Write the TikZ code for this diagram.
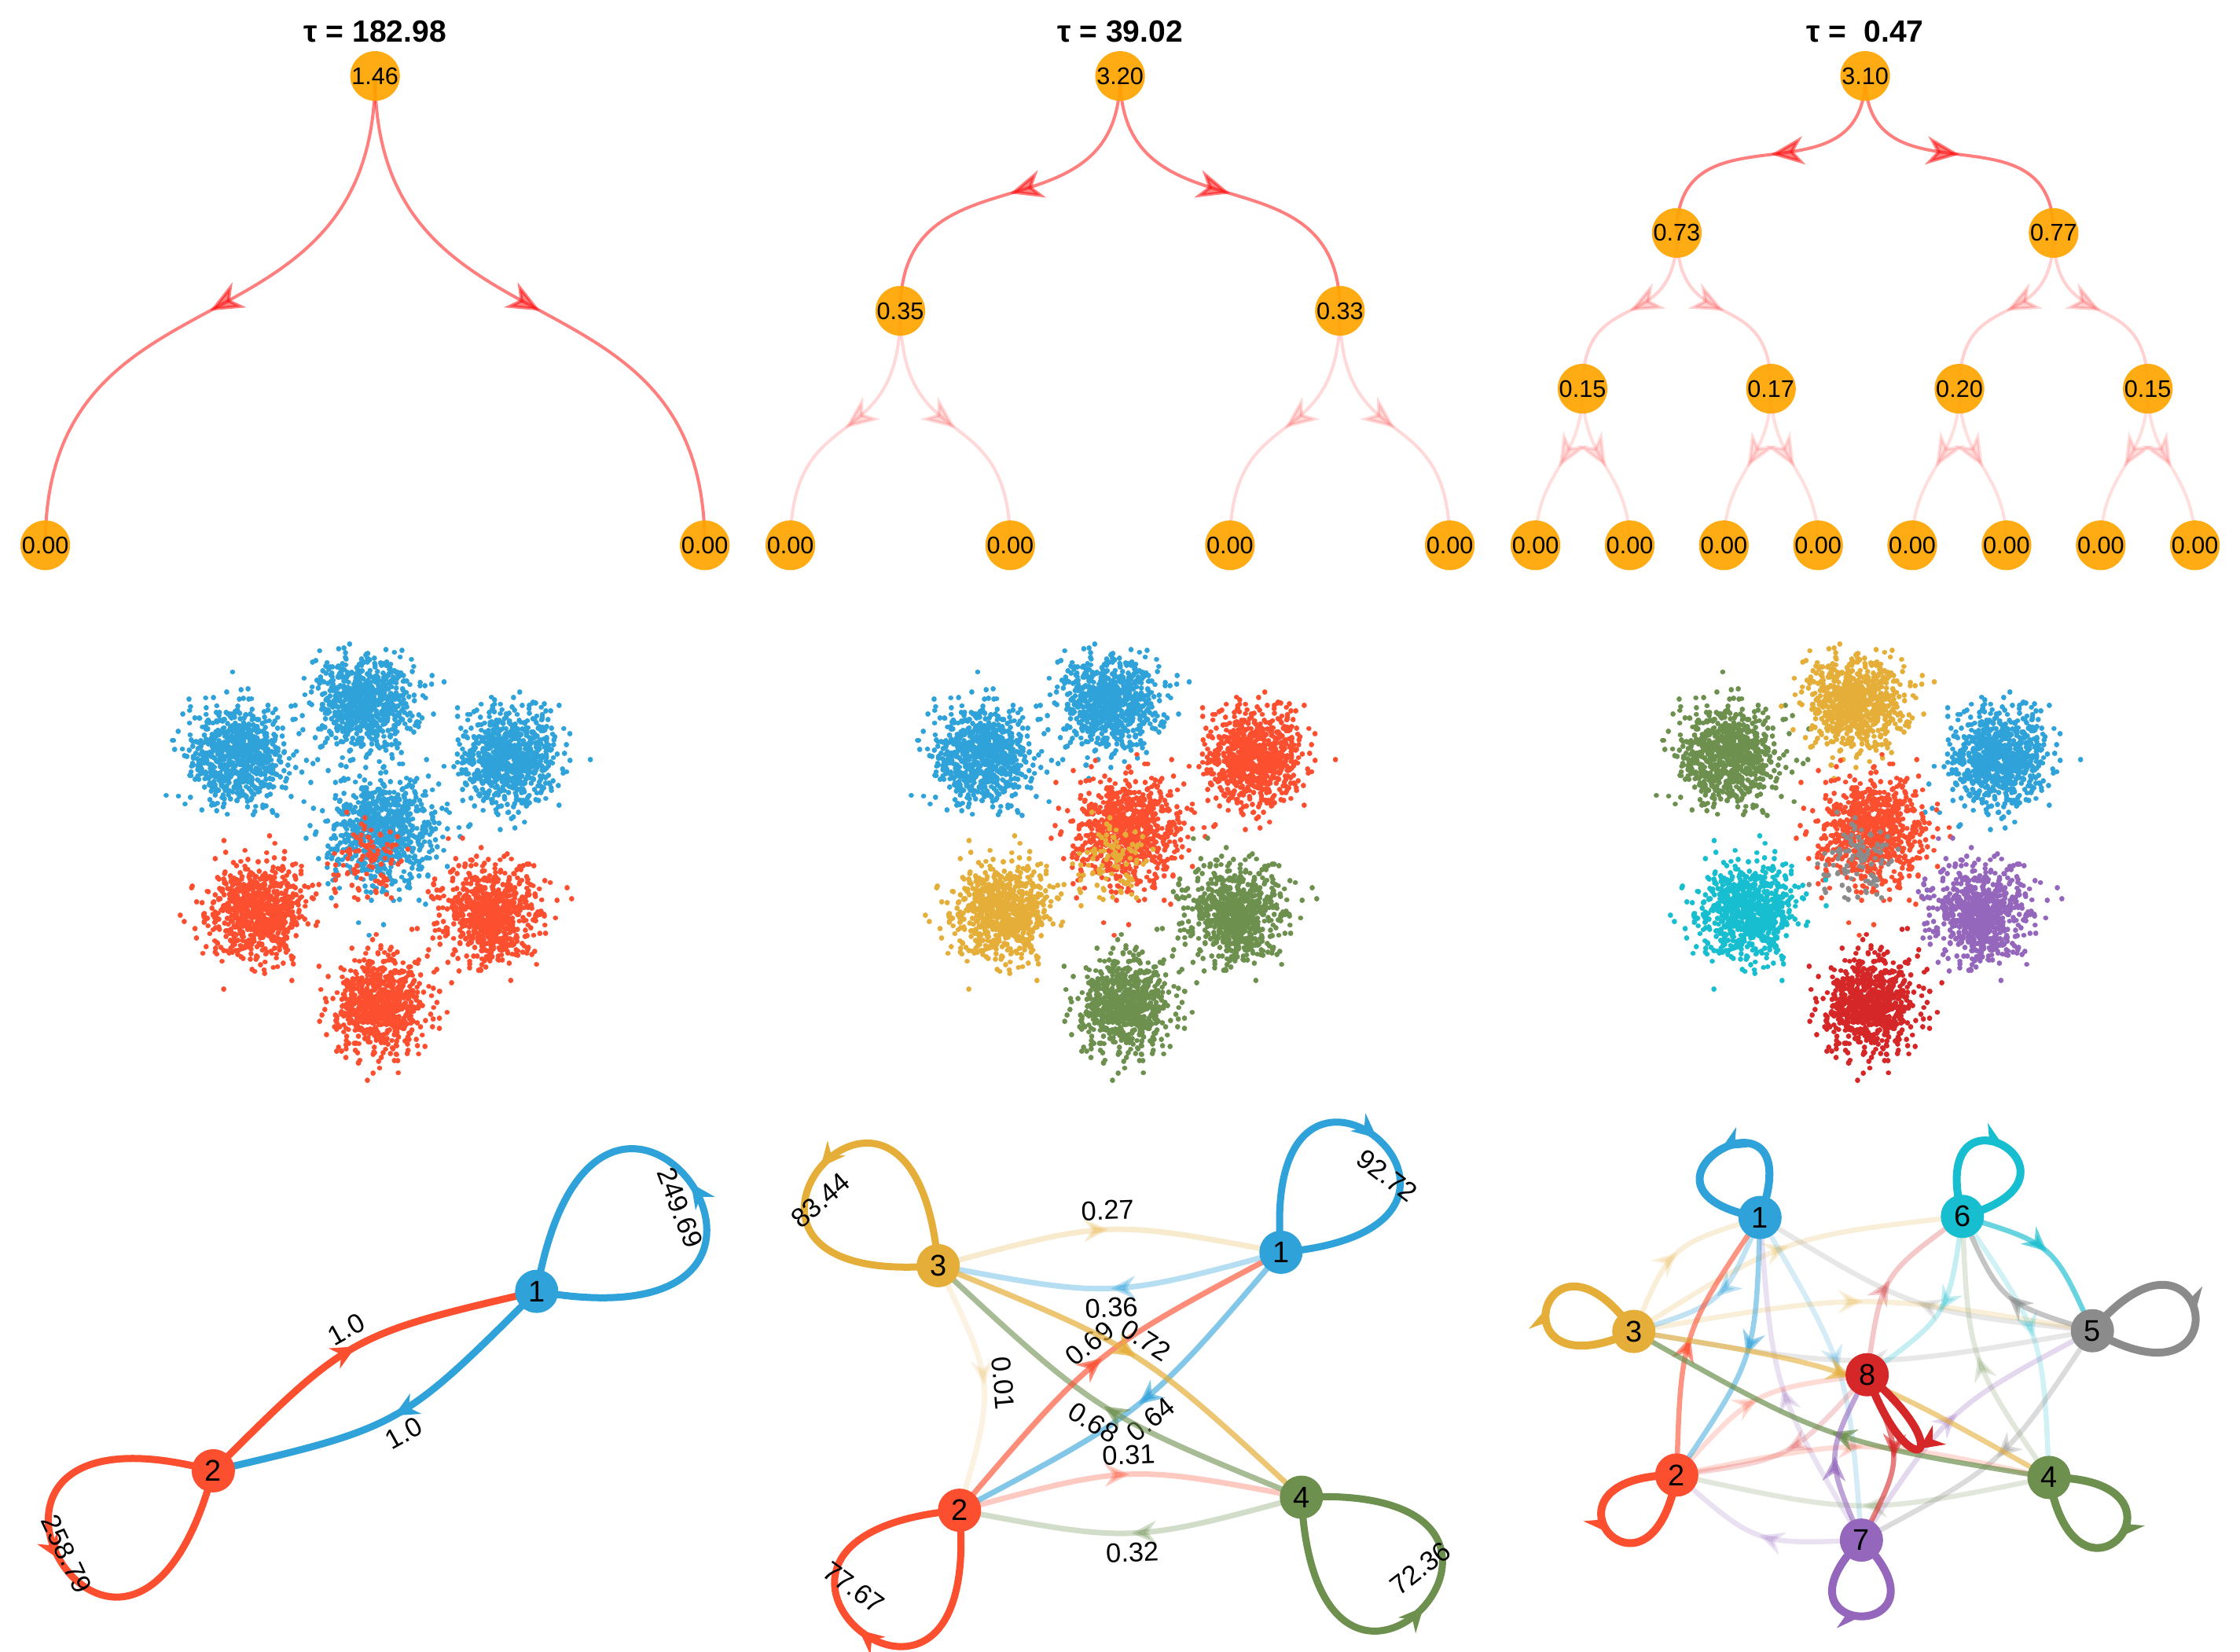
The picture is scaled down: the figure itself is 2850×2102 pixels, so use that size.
\documentclass[tikz,border=0pt]{standalone}
\usepackage{fontspec}
\setmainfont{Liberation Sans}
\usetikzlibrary{arrows.meta,decorations.markings,calc,backgrounds}
\definecolor{cblue}{HTML}{30A2DA}
\definecolor{cred}{HTML}{FC4F30}
\definecolor{cyel}{HTML}{E5AE38}
\definecolor{cgreen}{HTML}{6D904F}
\definecolor{cgray}{HTML}{8B8B8B}
\definecolor{ccyan}{HTML}{17BECF}
\definecolor{cpurple}{HTML}{9467BD}
\definecolor{cdred}{HTML}{D62728}
\definecolor{torange}{HTML}{FFA500}
\definecolor{tred}{HTML}{FF0000}
\newcommand\ttlfont{\fontsize{11.1pt}{13pt}\selectfont\bfseries}
\newcommand\tnfont{\fontsize{8.7pt}{10pt}\selectfont}
\newcommand\gnfont{\fontsize{10.8pt}{12pt}\selectfont}
\newcommand\elfont{\fontsize{9.8pt}{11pt}\selectfont}
\tikzset{
  tnode/.style={circle, fill=torange, fill opacity=0.92, text opacity=1, minimum size=0.57cm, inner sep=0pt, font=\tnfont},
  ttl/.style={font=\ttlfont, inner sep=0pt},
  gnode/.style={circle, fill=#1, minimum size=0.55cm, inner sep=0pt, font=\gnfont},
  elab/.style={font=\elfont, inner sep=2.5pt},
  tedge/.style={draw=tred, line width=1.14pt, draw opacity=#1, postaction={decorate},
    decoration={markings, mark=at position 0.5 with {\arrow[tred, opacity=#1]{Stealth[length=0.42cm, width=0.36cm, inset=0.13cm]}}}},
  gedge/.style n args={3}{draw=#1, draw opacity=#2, line width=#3, postaction={decorate},
    decoration={markings, mark=at position 0.5 with {\arrow[#1, opacity=#2]{Stealth[length=0.31cm, width=0.29cm, inset=0.1cm]}}}},
  dots/.style={line width=1.9pt, line cap=round, draw=#1},
}
\newcommand\tlink[4]{\draw[tedge=#4] (#1.center) .. controls ($(#1.center)+(0,#3)$) and ($(#2.center)+(0,-#3)$) .. (#2.center);}
\newcommand\glink[6]{\draw[gedge={#3}{#4}{#5}] (#1.center) .. controls ($(#1.center)!0.5!(#2.center)!#6!90:(#2.center)$) .. (#2.center);}
\newcommand\glinkl[9]{\draw[gedge={#3}{#4}{#5}] (#1.center) .. controls ($(#1.center)!0.5!(#2.center)!#6!90:(#2.center)$) .. (#2.center) node[elab, pos=0.5, sloped, #8] (#9) {#7};}
\newcommand\gloop[7]{\draw[gedge={#5}{#6}{#7}] (#1.center) .. controls +(#2:#4) and +(#3:#4) .. (#1.center);}
\newcommand\scatblob[6]{\pgfmathsetseed{#3}\foreach \j in {1,...,#4}{\draw[dots=#5, shift={(#1,#2)}] \foreach \i in {1,...,100}{\pgfextra{\pgfmathsetmacro\sbang{360*rnd}\pgfmathsetmacro\sbrad{#6*sqrt(-2*ln(0.0002+0.9998*rnd))}} (\sbang:\sbrad) -- ++(0.02,0)};}}
\newcommand\scatpanel[9]{%
  \scatblob{303.4+#1}{960.7}{11}{8}{#2}{30}
  \scatblob{465.1+#1}{895.7}{12}{8}{#3}{30}
  \scatblob{647.5+#1}{964.6}{13}{8}{#4}{30}
  \scatblob{485.8+#1}{1060.2}{14}{8}{#5}{34}
  \scatblob{470.8+#1}{1095.2}{15}{1}{#9}{24}
  \scatblob{328.3+#1}{1159.7}{16}{8}{#6}{30}
  \scatblob{622.6+#1}{1163.6}{17}{8}{#7}{30}
  \scatblob{481.7+#1}{1278.4}{18}{8}{#8}{30}}
\begin{document}
\begin{tikzpicture}[x=0.01cm,y=-0.01cm]
\begin{pgfonlayer}{background}
\fill[white] (0,0) rectangle (2850,2102);
\end{pgfonlayer}
\useasboundingbox (0,0) rectangle (2850,2102);
% ---------------- trees ----------------
\node[ttl] (ti1) at (477.2,40) {τ = 182.98};
\node[tnode] (a0) at (477.2,96.7) {1.46};
\node[tnode] (a1) at (57.6,693.8) {0.00};
\node[tnode] (a2) at (896.7,693.8) {0.00};
\node[ttl] (ti2) at (1425.1,40) {τ = 39.02};
\node[tnode] (b0) at (1425.1,96.7) {3.20};
\node[tnode] (b1) at (1145.5,395.5) {0.35};
\node[tnode] (b2) at (1704.8,395.5) {0.33};
\node[tnode] (b3) at (1005.6,693.8) {0.00};
\node[tnode] (b4) at (1285.3,693.8) {0.00};
\node[tnode] (b5) at (1564.9,693.8) {0.00};
\node[tnode] (b6) at (1844.6,693.8) {0.00};
\node[ttl] (ti3) at (2373.1,40) {τ =\ \ 0.47};
\node[tnode] (c0) at (2373.1,96.7) {3.10};
\node[tnode] (c1) at (2133.4,296.4) {0.73};
\node[tnode] (c2) at (2612.8,296.4) {0.77};
\node[tnode] (c3) at (2013.5,494.6) {0.15};
\node[tnode] (c4) at (2253.2,494.6) {0.17};
\node[tnode] (c5) at (2493.0,494.6) {0.20};
\node[tnode] (c6) at (2732.7,494.6) {0.15};
\node[tnode] (c7) at (1953.6,693.8) {0.00};
\node[tnode] (c8) at (2073.5,693.8) {0.00};
\node[tnode] (c9) at (2193.3,693.8) {0.00};
\node[tnode] (c10) at (2313.2,693.8) {0.00};
\node[tnode] (c11) at (2433.0,693.8) {0.00};
\node[tnode] (c12) at (2552.9,693.8) {0.00};
\node[tnode] (c13) at (2672.8,693.8) {0.00};
\node[tnode] (c14) at (2792.6,693.8) {0.00};
% ---------------- graph nodes ----------------
\node[gnode=cblue] (p1) at (682.8,1643.1) {1};
\node[gnode=cred] (p2) at (271.4,1871.4) {2};
\node[gnode=cblue] (m1) at (1629.8,1593.4) {1};
\node[gnode=cyel] (m3) at (1193.6,1610.4) {3};
\node[gnode=cred] (m2) at (1220.8,1921.6) {2};
\node[gnode=cgreen] (m4) at (1655.8,1905.0) {4};
\node[gnode=cblue] (h1) at (2239.3,1549.1) {1};
\node[gnode=ccyan] (h6) at (2496.8,1547.7) {6};
\node[gnode=cyel] (h3) at (2078.7,1694.1) {3};
\node[gnode=cgray] (h5) at (2662.2,1693.2) {5};
\node[gnode=cdred] (h8) at (2375.6,1749.2) {8};
\node[gnode=cred] (h2) at (2133.3,1876.8) {2};
\node[gnode=cgreen] (h4) at (2607.0,1879.9) {4};
\node[gnode=cpurple] (h7) at (2368.3,1959.6) {7};
% loop labels
\node[elab, rotate=-69] (l1a) at (865.2,1536.6) {249.69};
\node[elab, rotate=-65] (l1b) at (84.8,1977.5) {258.79};
\node[elab, rotate=-37] (l2a) at (1765,1496) {92.72};
\node[elab, rotate=41] (l2b) at (1043.9,1527.6) {83.44};
\node[elab, rotate=-36] (l2c) at (1086.3,2020) {77.67};
\node[elab, rotate=38] (l2d) at (1807.3,1995.5) {72.36};
\begin{pgfonlayer}{background}
% tree edges
\tlink{a0}{a1}{370}{0.5}
\tlink{a0}{a2}{370}{0.5}
\tlink{b0}{b1}{215}{0.5}
\tlink{b0}{b2}{215}{0.5}
\tlink{b1}{b3}{191}{0.15}
\tlink{b1}{b4}{191}{0.15}
\tlink{b2}{b5}{191}{0.15}
\tlink{b2}{b6}{191}{0.15}
\tlink{c0}{c1}{170}{0.5}
\tlink{c0}{c2}{170}{0.5}
\tlink{c1}{c3}{137}{0.18}
\tlink{c1}{c4}{137}{0.18}
\tlink{c2}{c5}{137}{0.18}
\tlink{c2}{c6}{137}{0.18}
\tlink{c3}{c7}{96}{0.13}
\tlink{c3}{c8}{96}{0.13}
\tlink{c4}{c9}{96}{0.13}
\tlink{c4}{c10}{96}{0.13}
\tlink{c5}{c11}{96}{0.13}
\tlink{c5}{c12}{96}{0.13}
\tlink{c6}{c13}{96}{0.13}
\tlink{c6}{c14}{96}{0.13}
% panel 1 graph
\glinkl{p2}{p1}{cred}{1}{2.56pt}{0.67cm}{1.0}{above}{e1a}
\glinkl{p1}{p2}{cblue}{1}{2.56pt}{0.67cm}{1.0}{below}{e1b}
\gloop{p1}{10}{-80}{452}{cblue}{1}{2.56pt}
\gloop{p2}{-165}{-255}{426}{cred}{1}{2.56pt}
% panel 2 graph
\glinkl{m3}{m2}{cyel}{0.15}{2pt}{0.6cm}{0.01}{above}{e2i}
\glinkl{m3}{m1}{cyel}{0.25}{2pt}{0.5cm}{0.27}{above}{e2a}
\glinkl{m1}{m3}{cblue}{0.35}{2pt}{0.5cm}{0.36}{below}{e2b}
\glinkl{m2}{m4}{cred}{0.3}{2pt}{0.5cm}{0.31}{above}{e2g}
\glinkl{m4}{m2}{cgreen}{0.3}{2pt}{0.5cm}{0.32}{below}{e2h}
\glinkl{m1}{m2}{cblue}{0.6}{2pt}{0.5cm}{0.64}{below}{e2f}
\glinkl{m4}{m3}{cgreen}{0.6}{2pt}{0.5cm}{0.68}{below}{e2d}
\glinkl{m2}{m1}{cred}{0.65}{2pt}{0.5cm}{0.69}{above}{e2e}
\glinkl{m3}{m4}{cyel}{0.7}{2pt}{0.5cm}{0.72}{above}{e2c}
\gloop{m1}{-95}{-5}{358}{cblue}{1}{2.56pt}
\gloop{m3}{-95}{-185}{368}{cyel}{1}{2.56pt}
\gloop{m2}{85}{175}{375}{cred}{1}{2.56pt}
\gloop{m4}{87}{-3}{394}{cgreen}{1}{2.56pt}
% panel 3 graph
\glink{h3}{h1}{cyel}{0.2}{1.85pt}{0.5cm}
\glink{h3}{h6}{cyel}{0.2}{1.85pt}{0.5cm}
\glink{h7}{h1}{cpurple}{0.2}{1.85pt}{0.5cm}
\glink{h1}{h7}{cblue}{0.2}{1.85pt}{0.5cm}
\glink{h5}{h1}{cgray}{0.2}{1.85pt}{0.5cm}
\glink{h3}{h5}{cyel}{0.2}{1.85pt}{0.5cm}
\glink{h5}{h3}{cgray}{0.2}{1.85pt}{0.5cm}
\glink{h8}{h6}{cdred}{0.25}{1.85pt}{0.5cm}
\glink{h6}{h8}{ccyan}{0.25}{1.85pt}{0.5cm}
\glink{h4}{h6}{cgreen}{0.2}{1.85pt}{0.5cm}
\glink{h6}{h4}{ccyan}{0.2}{1.85pt}{0.5cm}
\glink{h5}{h7}{cgray}{0.3}{1.85pt}{0.5cm}
\glink{h7}{h5}{cpurple}{0.25}{1.85pt}{0.5cm}
\glink{h2}{h4}{cred}{0.2}{1.85pt}{0.5cm}
\glink{h4}{h2}{cgreen}{0.2}{1.85pt}{0.5cm}
\glink{h2}{h8}{cred}{0.2}{1.85pt}{0.5cm}
\glink{h8}{h2}{cdred}{0.2}{1.85pt}{0.5cm}
\glink{h7}{h2}{cpurple}{0.2}{1.85pt}{0.5cm}
\glink{h1}{h3}{cblue}{0.3}{1.85pt}{0.5cm}
\glink{h1}{h2}{cblue}{0.5}{1.85pt}{0.5cm}
\glink{h2}{h1}{cred}{0.6}{1.85pt}{0.5cm}
\glink{h5}{h6}{cgray}{0.5}{1.85pt}{0.5cm}
\glink{h6}{h5}{ccyan}{0.65}{1.85pt}{0.5cm}
\glink{h3}{h4}{cyel}{0.6}{1.85pt}{0.5cm}
\glink{h4}{h3}{cgreen}{0.7}{1.85pt}{0.5cm}
\glink{h7}{h8}{cpurple}{0.6}{1.85pt}{0.5cm}
\glink{h8}{h7}{cdred}{0.6}{1.85pt}{0.5cm}
\gloop{h1}{-70}{-170}{207}{cblue}{1}{2.85pt}
\gloop{h6}{-105}{-15}{196}{ccyan}{1}{2.85pt}
\gloop{h3}{-205}{-125}{200}{cyel}{1}{2.85pt}
\gloop{h5}{-50}{30}{231}{cgray}{1}{2.85pt}
\gloop{h2}{-180}{-260}{198}{cred}{1}{2.85pt}
\gloop{h4}{0}{80}{205}{cgreen}{1}{2.85pt}
\gloop{h7}{135}{45}{183}{cpurple}{1}{2.85pt}
\gloop{h8}{40}{70}{159}{cdred}{1}{2.85pt}
\end{pgfonlayer}
% ---------------- scatter plots ----------------
\scatpanel{0}{cblue}{cblue}{cblue}{cblue}{cred}{cred}{cred}{cred}
\scatpanel{948}{cblue}{cblue}{cred}{cred}{cyel}{cgreen}{cgreen}{cyel}
\scatpanel{1896}{cgreen}{cyel}{cblue}{cred}{ccyan}{cpurple}{cdred}{cgray}
\end{tikzpicture}
\end{document}
